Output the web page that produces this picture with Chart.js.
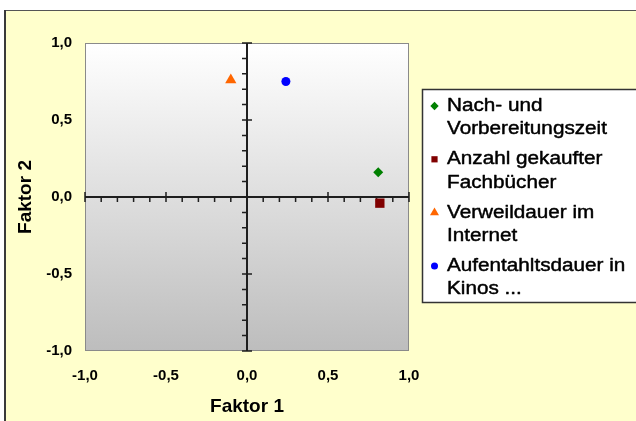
<!DOCTYPE html>
<html>
<head>
<meta charset="utf-8">
<script src="https://cdn.jsdelivr.net/npm/chart.js@4/dist/chart.umd.min.js"></script>
<style>
  html, body { margin: 0; padding: 0; background: #ffffff; }
  canvas { display: block; }
</style>
</head>
<body>
<canvas id="chart" width="636" height="421"></canvas>
<script>
// Series names (each split over two legend lines)
const seriesLabels = [
  ['Nach- und', 'Vorbereitungszeit'],
  ['Anzahl gekaufter', 'Fachbücher'],
  ['Verweildauer im', 'Internet'],
  ['Aufentahltsdauer in', 'Kinos ...']
];
// Loadings on the two factors
const faktor1 = [0.81, 0.82, -0.10, 0.24];
const faktor2 = [0.16, -0.04, 0.76, 0.75];

// Axis ticks
const axisTicks = [-1, -0.5, 0, 0.5, 1];
const axisTickLabels = ['-1,0', '-0,5', '0,0', '0,5', '1,0'];

// Marker styling
const markerColors = ['#008000', '#800000', '#FF6600', '#0000FF'];
const markerStyles = ['rectRot', 'rect', 'triangle', 'circle'];
const markerRadius = [5, 6.6, 6.5, 4.5];
const legendRadius = [4.2, 4.4, 5.2, 3.5];

const FONT = "'Liberation Sans', Arial, Helvetica, sans-serif";
Chart.defaults.font.family = FONT;
Chart.defaults.color = '#000';

// Page background, plot area gradient and legend frame
const framePlugin = {
  id: 'frame',
  beforeDraw(chart) {
    const ctx = chart.ctx;
    const a = chart.chartArea;
    ctx.save();
    ctx.fillStyle = '#ffffff';
    ctx.fillRect(0, 0, chart.width, chart.height);
    ctx.fillStyle = '#FFFFCC';
    ctx.fillRect(4, 10, chart.width, chart.height);
    ctx.strokeStyle = '#555555';
    ctx.lineWidth = 1;
    ctx.beginPath();
    ctx.moveTo(4, 10.5); ctx.lineTo(chart.width, 10.5);
    ctx.stroke();
    ctx.strokeStyle = '#3a3a3a';
    ctx.lineWidth = 2;
    ctx.beginPath();
    ctx.moveTo(5, 10); ctx.lineTo(5, chart.height);
    ctx.stroke();

    const g = ctx.createLinearGradient(0, a.top, 0, a.bottom);
    g.addColorStop(0, '#ffffff');
    g.addColorStop(1, '#bdbdbd');
    ctx.fillStyle = g;
    ctx.fillRect(a.left, a.top, a.right - a.left, a.bottom - a.top);
    ctx.strokeStyle = '#8a8a8a';
    ctx.lineWidth = 1;
    ctx.strokeRect(a.left + 0.5, a.top + 0.5, a.right - a.left - 1, a.bottom - a.top - 1);
    ctx.restore();
  },
  beforeDatasetsDraw(chart) {
    // Axes crossing at the origin, with minor ticks every 0.1
    const ctx = chart.ctx;
    const a = chart.chartArea;
    const xs = chart.scales.x, ys = chart.scales.y;
    const x0 = xs.getPixelForValue(0), y0 = ys.getPixelForValue(0);
    ctx.save();
    ctx.strokeStyle = '#1e1e1e';
    ctx.lineWidth = 2;
    ctx.beginPath();
    ctx.moveTo(a.left, y0); ctx.lineTo(a.right, y0);
    ctx.moveTo(x0, a.top); ctx.lineTo(x0, a.bottom);
    ctx.stroke();
    ctx.lineWidth = 1.5;
    ctx.beginPath();
    for (let k = -10; k <= 10; k++) {
      const v = k / 10;
      const major = k % 5 === 0;
      const px = xs.getPixelForValue(v);
      const py = ys.getPixelForValue(v);
      if (major) {
        ctx.moveTo(px, y0 - 5); ctx.lineTo(px, y0 + 5);
        ctx.moveTo(x0 - 5, py); ctx.lineTo(x0 + 5, py);
      } else {
        ctx.moveTo(px, y0); ctx.lineTo(px, y0 + 5);
        ctx.moveTo(x0 - 5, py); ctx.lineTo(x0, py);
      }
    }
    ctx.stroke();
    ctx.restore();
  },
  afterDraw(chart) {
    // Legend box on the right
    const ctx = chart.ctx;
    ctx.save();
    ctx.fillStyle = '#ffffff';
    ctx.fillRect(422, 89.5, 240, 213);
    ctx.strokeStyle = '#333333';
    ctx.lineWidth = 1.5;
    ctx.strokeRect(422.5, 89.5, 240, 213);

    ctx.font = '18px ' + FONT;
    ctx.textBaseline = 'middle';
    ctx.textAlign = 'left';
    ctx.lineJoin = 'round';
    chart.data.datasets.forEach((ds, i) => {
      const yTop = 106 + i * 53.3;
      ctx.fillStyle = markerColors[i];
      Chart.helpers.drawPoint(ctx, {
        pointStyle: markerStyles[i], radius: legendRadius[i], rotation: 0, borderWidth: 0
      }, 434.5, yTop);
      ctx.fillStyle = '#000000';
      ctx.strokeStyle = '#000000';
      ctx.lineWidth = 0.45;
      seriesLabels[i].forEach((line, j) => {
        ctx.save();
        ctx.translate(447, yTop + j * 23.3);
        ctx.scale(1.15, 1);
        ctx.fillText(line, 0, 0);
        ctx.strokeText(line, 0, 0);
        ctx.restore();
      });
    });
    ctx.restore();
  }
};

const datasets = seriesLabels.map((lines, i) => ({
  label: lines.join(' '),
  data: [{ x: faktor1[i], y: faktor2[i] }],
  pointStyle: markerStyles[i],
  pointRadius: markerRadius[i],
  backgroundColor: markerColors[i],
  borderColor: markerColors[i],
  borderWidth: 0
}));

const tickFont = { family: FONT, size: 15, weight: 'bold' };
const titleFont = { family: FONT, size: 19, weight: 'bold' };
const setTicks = (scale) => { scale.ticks = axisTicks.map(v => ({ value: v })); };
const tickLabel = (value, index) => axisTickLabels[index];

new Chart(document.getElementById('chart'), {
  type: 'scatter',
  data: { datasets },
  options: {
    responsive: false,
    animation: false,
    devicePixelRatio: 1,
    events: [],
    layout: { padding: { left: 0, top: 43, right: 227, bottom: 0 } },
    plugins: { legend: { display: false }, tooltip: { enabled: false } },
    scales: {
      x: {
        type: 'linear', min: -1, max: 1,
        afterBuildTicks: setTicks,
        afterFit: (s) => { s.height = 70; },
        ticks: { callback: tickLabel, font: tickFont, color: '#000', padding: 16, maxRotation: 0, autoSkip: false },
        grid: { display: false, drawTicks: false },
        border: { display: false },
        title: { display: true, text: 'Faktor 1', font: titleFont, color: '#000', padding: { top: 0, bottom: 3 } }
      },
      y: {
        type: 'linear', min: -1, max: 1,
        afterBuildTicks: setTicks,
        afterFit: (s) => { s.width = 85; },
        ticks: { callback: tickLabel, font: tickFont, color: '#000', padding: 13, autoSkip: false },
        grid: { display: false, drawTicks: false },
        border: { display: false },
        title: { display: true, text: 'Faktor 2', font: titleFont, color: '#000', padding: { top: 14, bottom: 0 } }
      }
    }
  },
  plugins: [framePlugin]
});
</script>
</body>
</html>
